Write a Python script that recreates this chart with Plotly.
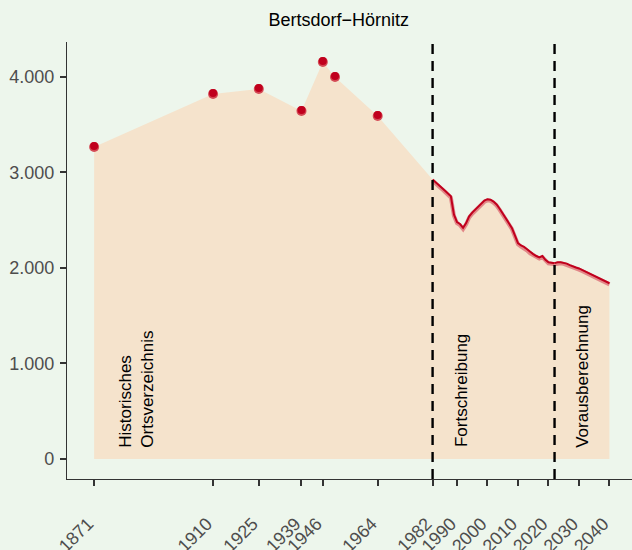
import plotly.graph_objects as go

# Historical census points (Ortsverzeichnis)
hist_years = [1871, 1910, 1925, 1939, 1946, 1950, 1964]
hist_vals = [3267, 3822, 3874, 3644, 4157, 4000, 3592]

# Fortschreibung 1982-2022
fort_years = list(range(1982, 2023))
fort_vals = [2925, 2900, 2870, 2840, 2810, 2775, 2750, 2560, 2480, 2460,
             2420, 2470, 2540, 2580, 2610, 2635, 2665, 2705, 2720, 2715,
             2695, 2665, 2620, 2570, 2515, 2470, 2420, 2340, 2260, 2235,
             2220, 2195, 2165, 2145, 2125, 2110, 2125, 2085, 2060, 2055, 2050]

# Vorausberechnung 2022-2040
proj_years = list(range(2022, 2041))
proj_vals = [2050, 2060, 2060, 2055, 2045, 2030, 2015, 2005, 1995, 1980,
             1965, 1950, 1935, 1915, 1900, 1885, 1870, 1855, 1840]

tick_years = [1871, 1910, 1925, 1939, 1946, 1964, 1982, 1990, 2000, 2010, 2020, 2030, 2040]
y_ticks = [0, 1000, 2000, 3000, 4000]
y_labels = ["0", "1.000", "2.000", "3.000", "4.000"]
phase_breaks = [1982, 2022]

title = "Bertsdorf\u2212Hörnitz"

line_col = "#c0001d"
bg = "#edf6ec"
FONT = "Liberation Sans, Arial, sans-serif"

area_x = hist_years + fort_years + proj_years[1:]
area_y = hist_vals + fort_vals + proj_vals[1:]

fig = go.Figure()
fig.add_trace(go.Scatter(x=area_x, y=area_y, mode="lines", line=dict(width=0),
                         fill="tozeroy", fillcolor="#f5e3cc", hoverinfo="skip",
                         showlegend=False))
for xs, ys in [(fort_years, fort_vals), (proj_years, proj_vals)]:
    fig.add_trace(go.Scatter(x=xs, y=[v - 12 for v in ys], mode="lines",
                             line=dict(color="rgba(210,60,80,0.55)", width=4),
                             showlegend=False, hoverinfo="skip"))
    fig.add_trace(go.Scatter(x=xs, y=ys, mode="lines",
                             line=dict(color=line_col, width=2), showlegend=False))
fig.add_trace(go.Scatter(x=hist_years, y=hist_vals, mode="markers",
                         marker=dict(color="#d44a55", size=10), showlegend=False))
fig.add_trace(go.Scatter(x=hist_years, y=[v + 10 for v in hist_vals], mode="markers",
                         marker=dict(color=line_col, size=8), showlegend=False))

for b in phase_breaks:
    fig.add_shape(type="line", x0=b, x1=b, y0=0, y1=1, yref="paper",
                  line=dict(color="black", width=2.4, dash="10px,7px"))

ann_font = dict(family=FONT, size=17, color="black")
fig.add_annotation(x=1885, y=100, text="Historisches<br>Ortsverzeichnis", textangle=-90,
                   showarrow=False, xanchor="center", yanchor="bottom", align="left",
                   font=ann_font)
fig.add_annotation(x=1991.7, y=100, text="Fortschreibung", textangle=-90,
                   showarrow=False, xanchor="center", yanchor="bottom", font=ann_font)
fig.add_annotation(x=2031.3, y=100, text="Vorausberechnung", textangle=-90,
                   showarrow=False, xanchor="center", yanchor="bottom", font=ann_font)

fig.update_layout(
    width=632, height=550,
    paper_bgcolor=bg, plot_bgcolor=bg,
    margin=dict(l=67, r=0, t=42, b=71),
    font=dict(family=FONT, size=18, color="#4d4d4d"),
    title=dict(text=title, x=0.536, xanchor="center", y=0.964, yanchor="middle",
               font=dict(size=18, color="black")),
    xaxis=dict(range=[1862.1, 2047.4], tickvals=tick_years, ticktext=[str(t) for t in tick_years],
               tickangle=-45, showgrid=False, zeroline=False, showline=True, automargin=False,
               linecolor="#333333", linewidth=1.2, ticks="outside", ticklen=6, tickwidth=2,
               tickcolor="#333333", tickfont=dict(size=18, color="#4d4d4d"),
               ticklabelstandoff=20, ticklabelshift=-6),
    yaxis=dict(range=[-210, 4366], tickvals=y_ticks, ticktext=y_labels, automargin=False,
               showgrid=False, zeroline=False, showline=True, linecolor="#333333",
               linewidth=1.2, ticks="outside", ticklen=6, tickwidth=2, tickcolor="#333333",
               tickfont=dict(size=18, color="#4d4d4d"), ticklabelstandoff=2),
)

fig.write_html("out.html", config={"displayModeBar": False},
               post_script="document.body.style.margin='0';document.body.style.background='%s';" % bg)
